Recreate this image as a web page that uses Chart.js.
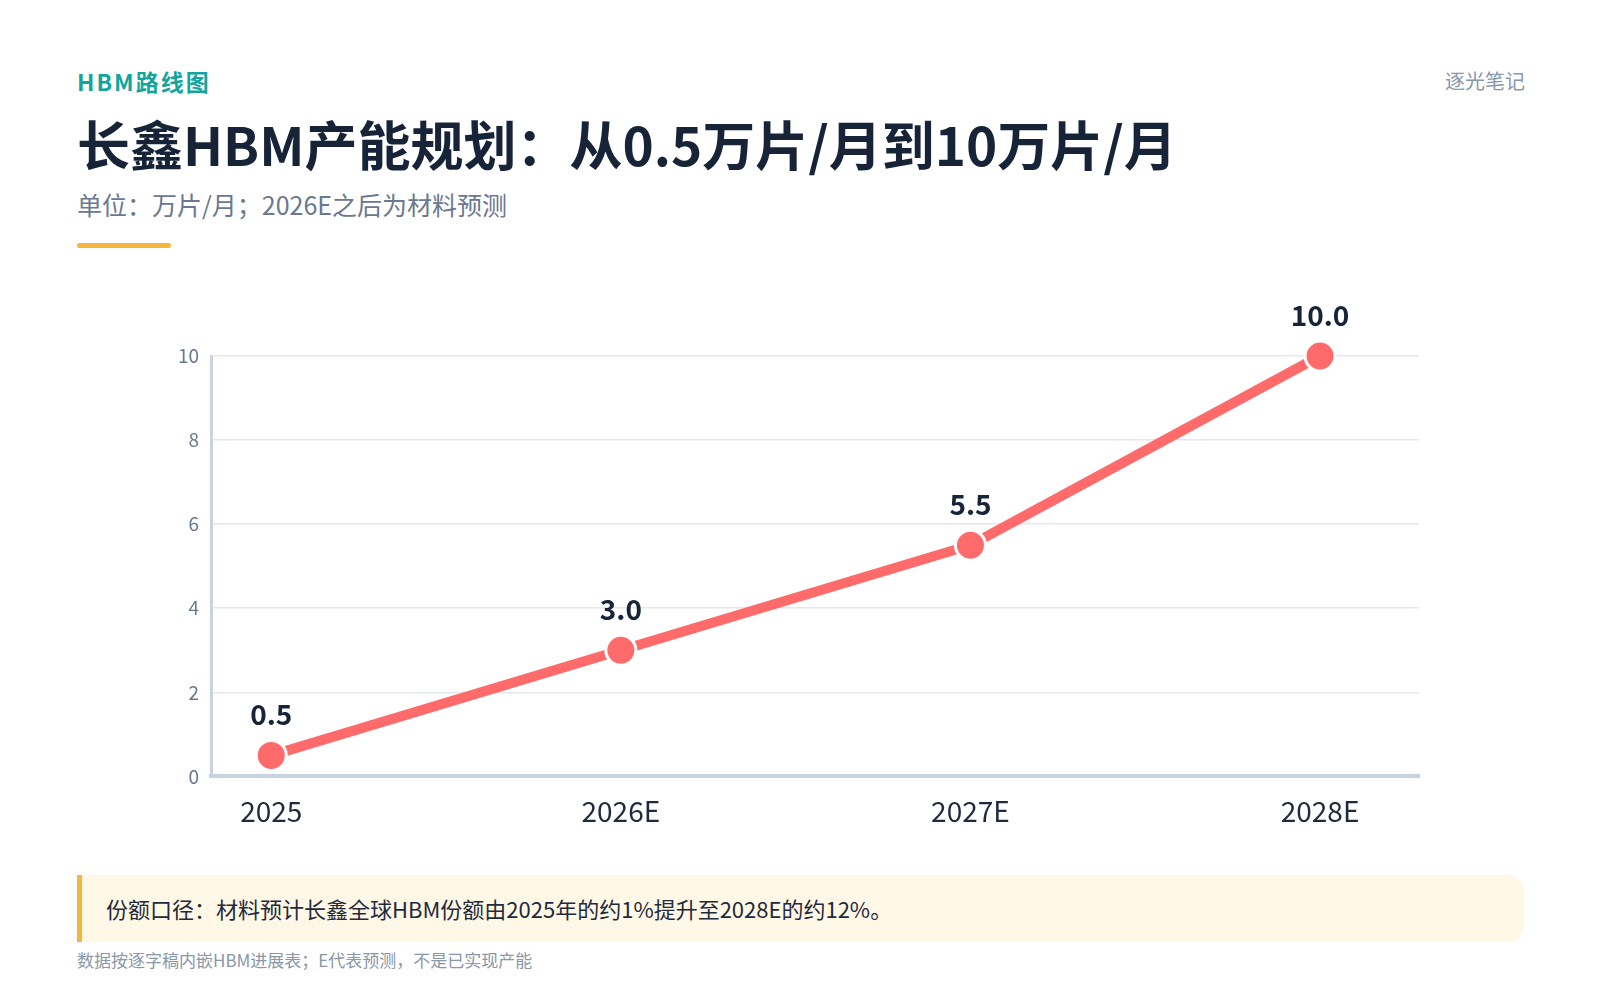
<!DOCTYPE html>
<html><head><meta charset="utf-8">
<script src="https://cdn.jsdelivr.net/npm/chart.js@4"></script>
<style>
body{margin:0;width:1600px;height:1000px;background:#fff;font-family:"Noto Sans CJK SC","Noto Sans",sans-serif;position:relative;overflow:hidden}
.tag{position:absolute;left:77px;top:64px;font-size:23px;font-weight:700;color:#11a59c;letter-spacing:2px}
.brand{position:absolute;right:75px;top:66px;font-size:20px;color:#8a97a8}
h1{position:absolute;left:77px;top:105px;margin:0;font-size:53px;font-weight:700;color:#172337}
.sub{position:absolute;left:77px;top:186px;font-size:25px;color:#6a7890}
.bar{position:absolute;left:77px;top:243px;width:94px;height:5px;border-radius:3px;background:#f3b63f}
#wrap{position:absolute;left:166px;top:294px;width:1303px;height:544px}
.note{position:absolute;left:77px;top:875px;width:1447px;height:67px;background:#fff8e6;border-left:5px solid #f3b63f;border-radius:0 16px 16px 0;box-sizing:border-box;padding-left:24px;line-height:67px;font-size:22px;color:#1f2a3d}
.foot{position:absolute;left:77px;top:947px;font-size:17px;color:#8a97a8}
</style></head><body>
<div class="tag">HBM路线图</div>
<div class="brand">逐光笔记</div>
<h1>长鑫HBM产能规划：从0.5万片/月到10万片/月</h1>
<div class="sub">单位：万片/月；2026E之后为材料预测</div>
<div class="bar"></div>
<div id="wrap"><canvas id="c"></canvas></div>
<div class="note">份额口径：材料预计长鑫全球HBM份额由2025年的约1%提升至2028E的约12%。</div>
<div class="foot">数据按逐字稿内嵌HBM进展表；E代表预测，不是已实现产能</div>
<script>
const years = ['2025', '2026E', '2027E', '2028E'];
const capacity = [0.5, 3.0, 5.5, 10.0];

// value above each point
const valueLabels = {
  id: 'valueLabels',
  afterDatasetsDraw(chart) {
    const ctx = chart.ctx;
    const meta = chart.getDatasetMeta(0);
    ctx.save();
    ctx.font = '700 28px "Noto Sans CJK SC", "Noto Sans", sans-serif';
    ctx.fillStyle = '#172337';
    ctx.textAlign = 'center';
    ctx.textBaseline = 'bottom';
    meta.data.forEach((pt, i) => {
      ctx.fillText(capacity[i].toFixed(1), pt.x, pt.y - 27);
    });
    ctx.restore();
  }
};

new Chart(document.getElementById('c'), {
  type: 'line',
  data: {
    datasets: [{
      data: capacity.map((v, i) => ({ x: i, y: v })),
      borderColor: '#ff6b6b',
      borderWidth: 10,
      pointBackgroundColor: '#ff6b6b',
      pointBorderColor: '#ffffff',
      pointBorderWidth: 3,
      pointRadius: 15,
      tension: 0,
      clip: false
    }]
  },
  plugins: [valueLabels],
  options: {
    responsive: true,
    maintainAspectRatio: false,
    animation: false,
    layout: { padding: { top: 62, right: 50, left: 0, bottom: 0 } },
    plugins: { legend: { display: false }, tooltip: { enabled: false } },
    scales: {
      x: {
        type: 'linear',
        min: -0.172,
        max: 3.283,
        afterBuildTicks: axis => {
          axis.ticks = years.map((_, i) => ({ value: i }));
        },
        ticks: {
          callback: v => years[v],
          color: '#1f2a3d',
          font: { size: 28, family: '"Noto Sans CJK SC", "Noto Sans", sans-serif' },
          padding: 10
        },
        grid: { display: false },
        border: { color: '#c9d3df', width: 4 }
      },
      y: {
        min: 0,
        max: 10,
        ticks: {
          stepSize: 2,
          color: '#6a7890',
          font: { size: 19, family: '"Noto Sans CJK SC", "Noto Sans", sans-serif' },
          padding: 12
        },
        grid: { color: '#e3e8ef', lineWidth: 1.5, drawTicks: false },
        border: { color: '#c9d3df', width: 3 }
      }
    }
  }
});
</script>
</body></html>
